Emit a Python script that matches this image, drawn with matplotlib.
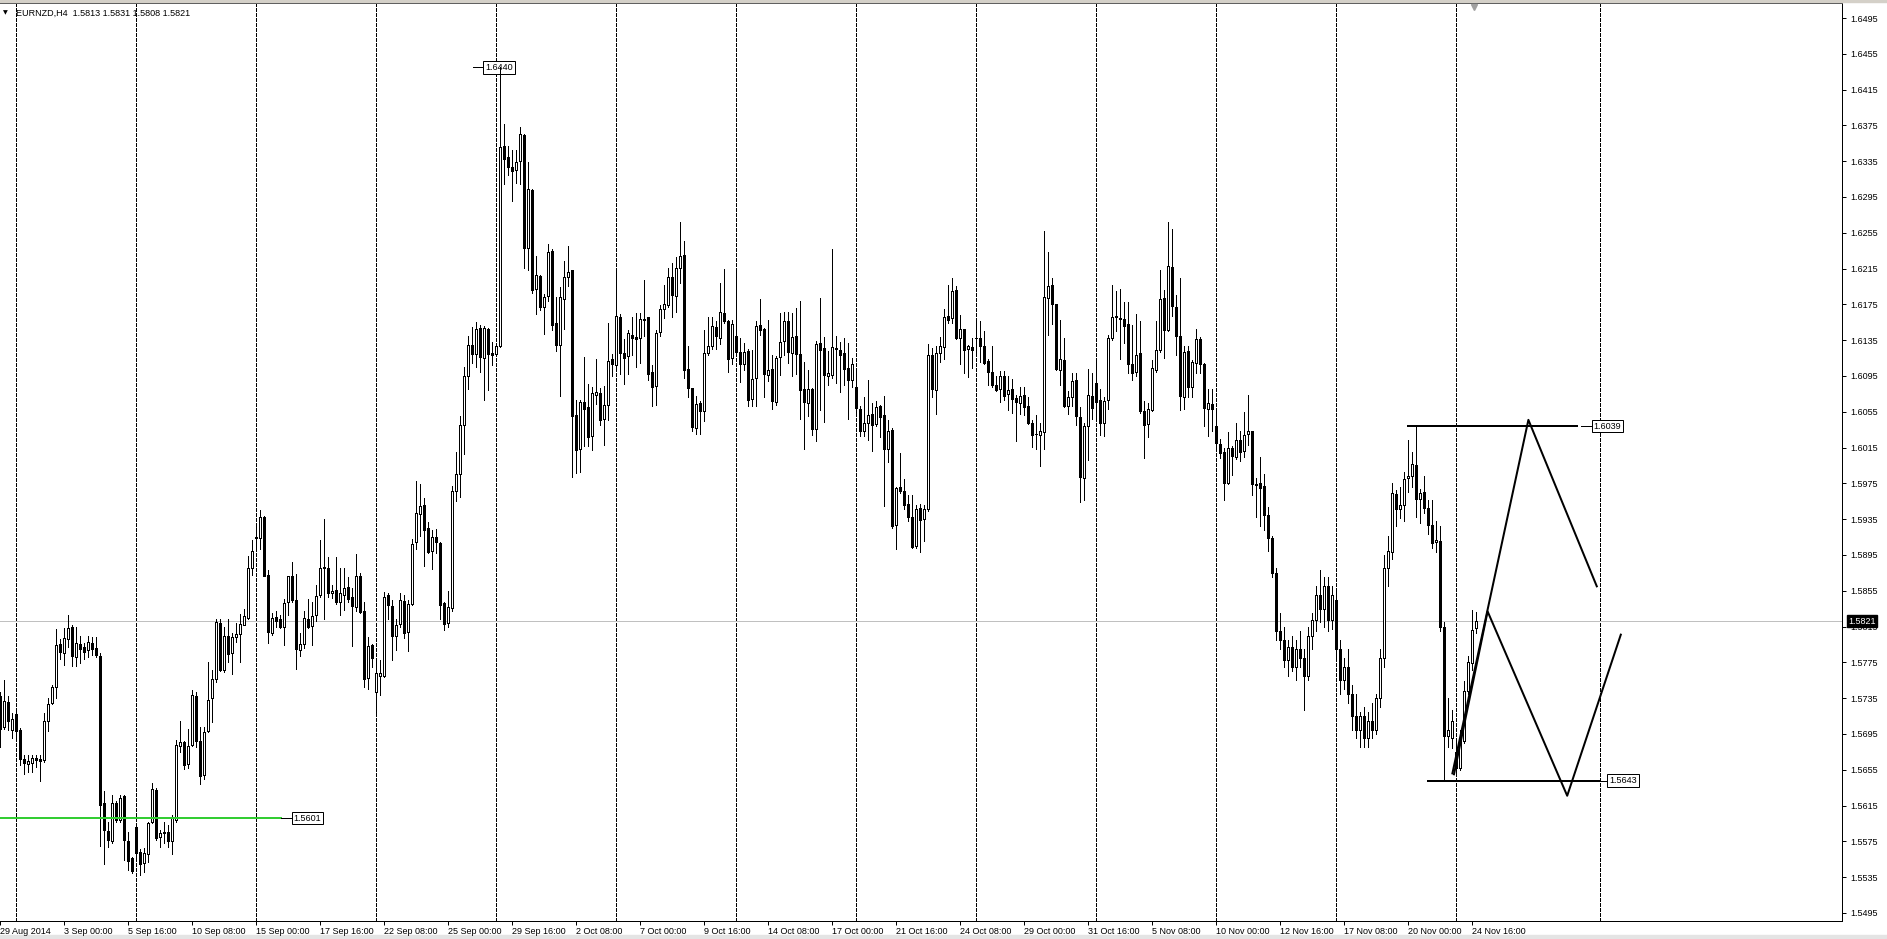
import numpy as np
import matplotlib.pyplot as plt
from matplotlib.patches import Rectangle

plt.rcParams['font.family'] = ['Liberation Sans', 'DejaVu Sans']
plt.rcParams['font.size'] = 6.5

# H4 bars, bar 0 = 1 Sep 2014 00:00, first bar = 29 Aug 2014 08:00
first_bar = -4

opens = [
    1.5738, 1.5703, 1.5731, 1.5699, 1.5717, 1.5700, 1.5667, 1.5662, 1.5663, 1.5668,
    1.5667, 1.5666, 1.5710, 1.5730, 1.5748, 1.5795, 1.5786, 1.5801, 1.5814, 1.5781,
    1.5796, 1.5792, 1.5789, 1.5797, 1.5791, 1.5782, 1.5618, 1.5587, 1.5575, 1.5618,
    1.5599, 1.5626, 1.5576, 1.5556, 1.5591, 1.5563, 1.5551, 1.5561, 1.5597, 1.5632,
    1.5580, 1.5585, 1.5586, 1.5575, 1.5599, 1.5682, 1.5686, 1.5662, 1.5683, 1.5738,
    1.5687, 1.5649, 1.5698, 1.5735, 1.5756, 1.5819, 1.5766, 1.5804, 1.5785, 1.5803,
    1.5807, 1.5817, 1.5825, 1.5881, 1.5914, 1.5914, 1.5937, 1.5873, 1.5808, 1.5826,
    1.5823, 1.5814, 1.5842, 1.5872, 1.5845, 1.5789, 1.5795, 1.5824, 1.5816, 1.5828,
    1.5850, 1.5882, 1.5881, 1.5853, 1.5856, 1.5843, 1.5850, 1.5859, 1.5848, 1.5837,
    1.5872, 1.5832, 1.5758, 1.5794, 1.5742, 1.5760, 1.5760, 1.5850, 1.5838, 1.5805,
    1.5818, 1.5844, 1.5809, 1.5840, 1.5909, 1.5941, 1.5951, 1.5925, 1.5900, 1.5915,
    1.5908, 1.5841, 1.5819, 1.5836, 1.5967, 1.5985, 1.6040, 1.6095, 1.6130, 1.6120,
    1.6149, 1.6115, 1.6148, 1.6121, 1.6120, 1.6129, 1.6352, 1.6340, 1.6328, 1.6325,
    1.6335, 1.6364, 1.6238, 1.6303, 1.6192, 1.6207, 1.6172, 1.6184, 1.6235, 1.6154,
    1.6130, 1.6181, 1.6206, 1.6213, 1.6051, 1.6013, 1.6066, 1.6060, 1.6028, 1.6074,
    1.6076, 1.6047, 1.6063, 1.6114, 1.6107, 1.6161, 1.6121, 1.6117, 1.6141, 1.6139,
    1.6138, 1.6159, 1.6161, 1.6099, 1.6084, 1.6144, 1.6170, 1.6174, 1.6206, 1.6184,
    1.6216, 1.6230, 1.6103, 1.6082, 1.6037, 1.6065, 1.6056, 1.6121, 1.6129, 1.6150,
    1.6137, 1.6165, 1.6157, 1.6115, 1.6140, 1.6122, 1.6108, 1.6123, 1.6069, 1.6093,
    1.6152, 1.6148, 1.6096, 1.6103, 1.6066, 1.6116, 1.6134, 1.6157, 1.6121, 1.6140,
    1.6120, 1.6081, 1.6065, 1.6080, 1.6036, 1.6132, 1.6126, 1.6095, 1.6096, 1.6126,
    1.6124, 1.6121, 1.6104, 1.6091, 1.6083, 1.6058, 1.6034, 1.6042, 1.6052, 1.6041,
    1.6061, 1.6051, 1.6013, 1.6035, 1.5928, 1.5971, 1.5967, 1.5952, 1.5938, 1.5905,
    1.5948, 1.5935, 1.5946, 1.6119, 1.6079, 1.6121, 1.6127, 1.6162, 1.6160, 1.6191,
    1.6137, 1.6147, 1.6125, 1.6127, 1.6137, 1.6138, 1.6128, 1.6112, 1.6100, 1.6085,
    1.6080, 1.6095, 1.6075, 1.6080, 1.6070, 1.6065, 1.6074, 1.6062, 1.6042, 1.6030,
    1.6029, 1.6032, 1.6182, 1.6197, 1.6176, 1.6102, 1.6113, 1.6062, 1.6071, 1.6090,
    1.6049, 1.5981, 1.6039, 1.6073, 1.6087, 1.6068, 1.6043, 1.6068, 1.6138, 1.6161,
    1.6160, 1.6159, 1.6153, 1.6108, 1.6099, 1.6121, 1.6056, 1.6041, 1.6057, 1.6102,
    1.6124, 1.6182, 1.6146, 1.6217, 1.6172, 1.6140, 1.6072, 1.6123, 1.6083, 1.6110,
    1.6136, 1.6108, 1.6058, 1.6064, 1.6039, 1.6019, 1.6010, 1.5975, 1.6015, 1.6005,
    1.6023, 1.6011, 1.6030, 1.6033, 1.5974, 1.5975, 1.5972, 1.5940, 1.5914, 1.5875,
    1.5810, 1.5800, 1.5778, 1.5792, 1.5770, 1.5790, 1.5780, 1.5760, 1.5805, 1.5822,
    1.5850, 1.5835, 1.5860, 1.5822, 1.5845, 1.5790, 1.5755, 1.5770, 1.5740, 1.5715,
    1.5700, 1.5715, 1.5690, 1.5710, 1.5700, 1.5735, 1.5780, 1.5880, 1.5898, 1.5963,
    1.5946, 1.5951, 1.5981, 1.5983, 1.5996, 1.5958, 1.5965, 1.5947, 1.5928, 1.5909,
    1.5911, 1.5815, 1.5693, 1.5691, 1.5675, 1.5657, 1.5687, 1.5743, 1.5774, 1.5813,
]
highs = [
    1.5742, 1.5755, 1.5738, 1.5718, 1.5720, 1.5702, 1.5672, 1.5671, 1.5672, 1.5672,
    1.5672, 1.5719, 1.5735, 1.5750, 1.5812, 1.5801, 1.5813, 1.5828, 1.5817, 1.5815,
    1.5805, 1.5797, 1.5805, 1.5803, 1.5803, 1.5786, 1.5631, 1.5597, 1.5627, 1.5620,
    1.5627, 1.5627, 1.5586, 1.5558, 1.5593, 1.5567, 1.5568, 1.5597, 1.5640, 1.5635,
    1.5588, 1.5597, 1.5593, 1.5604, 1.5688, 1.5710, 1.5687, 1.5701, 1.5744, 1.5742,
    1.5703, 1.5703, 1.5776, 1.5766, 1.5824, 1.5823, 1.5815, 1.5823, 1.5808, 1.5819,
    1.5829, 1.5835, 1.5894, 1.5912, 1.5928, 1.5945, 1.5939, 1.5878, 1.5830, 1.5832,
    1.5828, 1.5846, 1.5872, 1.5887, 1.5874, 1.5808, 1.5832, 1.5846, 1.5843, 1.5861,
    1.5912, 1.5935, 1.5893, 1.5861, 1.5893, 1.5881, 1.5881, 1.5870, 1.5858, 1.5896,
    1.5875, 1.5843, 1.5803, 1.5796, 1.5775, 1.5778, 1.5854, 1.5853, 1.5845, 1.5824,
    1.5852, 1.5850, 1.5845, 1.5913, 1.5978, 1.5974, 1.5959, 1.5932, 1.5923, 1.5924,
    1.5909, 1.5843, 1.5855, 1.5972, 1.6010, 1.6050, 1.6105, 1.6140, 1.6150, 1.6155,
    1.6152, 1.6151, 1.6149, 1.6133, 1.6129, 1.6440, 1.6377, 1.6352, 1.6348, 1.6347,
    1.6373, 1.6365, 1.6334, 1.6304, 1.6229, 1.6208, 1.6187, 1.6242, 1.6237, 1.6183,
    1.6194, 1.6224, 1.6240, 1.6213, 1.6068, 1.6068, 1.6116, 1.6086, 1.6083, 1.6114,
    1.6082, 1.6084, 1.6154, 1.6120, 1.6211, 1.6164, 1.6136, 1.6146, 1.6161, 1.6165,
    1.6165, 1.6202, 1.6161, 1.6107, 1.6146, 1.6174, 1.6197, 1.6216, 1.6221, 1.6228,
    1.6267, 1.6246, 1.6129, 1.6082, 1.6073, 1.6067, 1.6146, 1.6161, 1.6161, 1.6157,
    1.6199, 1.6214, 1.6158, 1.6158, 1.6215, 1.6137, 1.6132, 1.6125, 1.6124, 1.6156,
    1.6181, 1.6149, 1.6158, 1.6118, 1.6117, 1.6165, 1.6166, 1.6166, 1.6165, 1.6171,
    1.6179, 1.6111, 1.6102, 1.6082, 1.6134, 1.6182, 1.6139, 1.6123, 1.6237, 1.6140,
    1.6133, 1.6137, 1.6132, 1.6115, 1.6102, 1.6062, 1.6072, 1.6090, 1.6065, 1.6067,
    1.6063, 1.6073, 1.6046, 1.6037, 1.5971, 1.6009, 1.5980, 1.5962, 1.5962, 1.5951,
    1.5952, 1.5951, 1.6131, 1.6126, 1.6129, 1.6139, 1.6170, 1.6197, 1.6204, 1.6195,
    1.6163, 1.6147, 1.6130, 1.6137, 1.6156, 1.6156, 1.6145, 1.6114, 1.6128, 1.6095,
    1.6101, 1.6101, 1.6095, 1.6092, 1.6074, 1.6083, 1.6083, 1.6072, 1.6046, 1.6051,
    1.6042, 1.6257, 1.6233, 1.6204, 1.6176, 1.6158, 1.6137, 1.6078, 1.6098, 1.6098,
    1.6060, 1.6043, 1.6103, 1.6098, 1.6115, 1.6080, 1.6072, 1.6141, 1.6197, 1.6190,
    1.6192, 1.6178, 1.6178, 1.6152, 1.6164, 1.6157, 1.6067, 1.6065, 1.6113, 1.6157,
    1.6213, 1.6191, 1.6267, 1.6259, 1.6186, 1.6204, 1.6128, 1.6129, 1.6113, 1.6148,
    1.6139, 1.6109, 1.6080, 1.6081, 1.6055, 1.6025, 1.6015, 1.6032, 1.6017, 1.6042,
    1.6034, 1.6055, 1.6074, 1.6034, 1.5981, 1.6004, 1.5985, 1.5949, 1.5916, 1.5880,
    1.5830, 1.5815, 1.5800, 1.5805, 1.5800, 1.5810, 1.5790, 1.5815, 1.5830, 1.5860,
    1.5878, 1.5870, 1.5870, 1.5860, 1.5855, 1.5800, 1.5780, 1.5790, 1.5750, 1.5740,
    1.5720, 1.5725, 1.5720, 1.5730, 1.5740, 1.5790, 1.5895, 1.5916, 1.5976, 1.5968,
    1.5971, 1.5988, 1.6023, 1.6010, 1.6039, 1.5969, 1.5983, 1.5957, 1.5957, 1.5933,
    1.5927, 1.5820, 1.5735, 1.5722, 1.5689, 1.5700, 1.5754, 1.5782, 1.5834, 1.5831,
]
lows = [
    1.5681, 1.5701, 1.5699, 1.5690, 1.5690, 1.5660, 1.5650, 1.5653, 1.5653, 1.5658,
    1.5642, 1.5664, 1.5698, 1.5729, 1.5735, 1.5779, 1.5772, 1.5792, 1.5771, 1.5771,
    1.5774, 1.5779, 1.5781, 1.5783, 1.5781, 1.5570, 1.5550, 1.5569, 1.5573, 1.5597,
    1.5597, 1.5554, 1.5543, 1.5540, 1.5558, 1.5538, 1.5541, 1.5552, 1.5595, 1.5577,
    1.5569, 1.5573, 1.5569, 1.5561, 1.5597, 1.5675, 1.5656, 1.5657, 1.5682, 1.5681,
    1.5639, 1.5645, 1.5697, 1.5708, 1.5753, 1.5765, 1.5764, 1.5776, 1.5762, 1.5798,
    1.5775, 1.5817, 1.5823, 1.5873, 1.5902, 1.5902, 1.5871, 1.5797, 1.5806, 1.5815,
    1.5813, 1.5794, 1.5828, 1.5843, 1.5768, 1.5782, 1.5791, 1.5813, 1.5794, 1.5821,
    1.5848, 1.5824, 1.5848, 1.5847, 1.5840, 1.5828, 1.5833, 1.5842, 1.5793, 1.5832,
    1.5830, 1.5747, 1.5745, 1.5770, 1.5718, 1.5739, 1.5759, 1.5824, 1.5778, 1.5789,
    1.5815, 1.5802, 1.5788, 1.5839, 1.5902, 1.5916, 1.5883, 1.5897, 1.5879, 1.5897,
    1.5824, 1.5811, 1.5815, 1.5832, 1.5955, 1.5960, 1.6008, 1.6080, 1.6110, 1.6105,
    1.6100, 1.6068, 1.6079, 1.6107, 1.6118, 1.6127, 1.6309, 1.6320, 1.6291, 1.6311,
    1.6310, 1.6216, 1.6213, 1.6188, 1.6164, 1.6169, 1.6142, 1.6179, 1.6146, 1.6123,
    1.6073, 1.6148, 1.6196, 1.5982, 1.5987, 1.5988, 1.6017, 1.6017, 1.6012, 1.6064,
    1.6040, 1.6018, 1.6046, 1.6095, 1.6105, 1.6097, 1.6086, 1.6097, 1.6118, 1.6105,
    1.6110, 1.6140, 1.6090, 1.6062, 1.6063, 1.6140, 1.6160, 1.6172, 1.6161, 1.6166,
    1.6199, 1.6093, 1.6071, 1.6034, 1.6030, 1.6030, 1.6045, 1.6118, 1.6125, 1.6125,
    1.6131, 1.6154, 1.6100, 1.6108, 1.6121, 1.6088, 1.6102, 1.6062, 1.6061, 1.6061,
    1.6141, 1.6071, 1.6089, 1.6058, 1.6063, 1.6096, 1.6119, 1.6109, 1.6095, 1.6097,
    1.6047, 1.6013, 1.6050, 1.6029, 1.6022, 1.6057, 1.6044, 1.6085, 1.6093, 1.6087,
    1.6077, 1.6085, 1.6047, 1.6083, 1.6055, 1.6028, 1.6028, 1.6024, 1.6011, 1.6039,
    1.6027, 1.5950, 1.5999, 1.5925, 1.5902, 1.5964, 1.5946, 1.5933, 1.5903, 1.5903,
    1.5898, 1.5911, 1.5944, 1.6072, 1.6052, 1.6111, 1.6114, 1.6154, 1.6154, 1.6136,
    1.6108, 1.6098, 1.6094, 1.6104, 1.6119, 1.6111, 1.6108, 1.6085, 1.6083, 1.6078,
    1.6066, 1.6068, 1.6057, 1.6054, 1.6022, 1.6052, 1.6051, 1.6041, 1.6016, 1.6013,
    1.5994, 1.6013, 1.6141, 1.6153, 1.6102, 1.6085, 1.6060, 1.6052, 1.6062, 1.6040,
    1.5954, 1.5956, 1.6001, 1.6047, 1.6045, 1.6029, 1.6028, 1.6058, 1.6135, 1.6145,
    1.6114, 1.6132, 1.6098, 1.6090, 1.6095, 1.6054, 1.6003, 1.6027, 1.6056, 1.6099,
    1.6122, 1.6115, 1.6145, 1.6162, 1.6119, 1.6057, 1.6058, 1.6072, 1.6071, 1.6098,
    1.6098, 1.6039, 1.6028, 1.6033, 1.6011, 1.6003, 1.5956, 1.5974, 1.5984, 1.6002,
    1.6000, 1.6004, 1.6018, 1.5962, 1.5938, 1.5927, 1.5923, 1.5900, 1.5870, 1.5800,
    1.5790, 1.5770, 1.5760, 1.5765, 1.5755, 1.5770, 1.5722, 1.5755, 1.5790, 1.5810,
    1.5820, 1.5815, 1.5810, 1.5812, 1.5780, 1.5740, 1.5745, 1.5730, 1.5700, 1.5690,
    1.5680, 1.5680, 1.5680, 1.5690, 1.5695, 1.5725, 1.5770, 1.5860, 1.5890, 1.5927,
    1.5936, 1.5933, 1.5965, 1.5971, 1.5938, 1.5931, 1.5942, 1.5918, 1.5903, 1.5898,
    1.5810, 1.5643, 1.5681, 1.5679, 1.5652, 1.5655, 1.5685, 1.5740, 1.5767, 1.5808,
]
closes = [
    1.5701, 1.5732, 1.5710, 1.5712, 1.5698, 1.5667, 1.5663, 1.5665, 1.5668, 1.5666,
    1.5665, 1.5710, 1.5729, 1.5748, 1.5794, 1.5787, 1.5802, 1.5813, 1.5782, 1.5797,
    1.5790, 1.5787, 1.5798, 1.5790, 1.5783, 1.5616, 1.5588, 1.5577, 1.5618, 1.5599,
    1.5624, 1.5577, 1.5553, 1.5542, 1.5562, 1.5550, 1.5562, 1.5596, 1.5633, 1.5579,
    1.5584, 1.5584, 1.5576, 1.5601, 1.5683, 1.5686, 1.5660, 1.5682, 1.5739, 1.5687,
    1.5648, 1.5697, 1.5733, 1.5757, 1.5820, 1.5766, 1.5804, 1.5784, 1.5803, 1.5807,
    1.5818, 1.5827, 1.5881, 1.5900, 1.5915, 1.5938, 1.5872, 1.5809, 1.5825, 1.5821,
    1.5815, 1.5841, 1.5871, 1.5845, 1.5790, 1.5796, 1.5825, 1.5815, 1.5827, 1.5849,
    1.5881, 1.5880, 1.5853, 1.5855, 1.5842, 1.5852, 1.5858, 1.5846, 1.5838, 1.5872,
    1.5831, 1.5756, 1.5793, 1.5780, 1.5763, 1.5763, 1.5848, 1.5839, 1.5805, 1.5817,
    1.5845, 1.5808, 1.5840, 1.5907, 1.5942, 1.5950, 1.5923, 1.5898, 1.5915, 1.5909,
    1.5839, 1.5818, 1.5837, 1.5967, 1.5986, 1.6040, 1.6095, 1.6130, 1.6120, 1.6148,
    1.6116, 1.6149, 1.6120, 1.6119, 1.6128, 1.6351, 1.6338, 1.6328, 1.6324, 1.6334,
    1.6365, 1.6238, 1.6304, 1.6191, 1.6208, 1.6172, 1.6183, 1.6234, 1.6152, 1.6130,
    1.6183, 1.6206, 1.6211, 1.6050, 1.6012, 1.6066, 1.6058, 1.6027, 1.6076, 1.6077,
    1.6046, 1.6063, 1.6112, 1.6108, 1.6162, 1.6121, 1.6115, 1.6143, 1.6137, 1.6136,
    1.6159, 1.6158, 1.6097, 1.6083, 1.6143, 1.6170, 1.6175, 1.6206, 1.6185, 1.6216,
    1.6229, 1.6102, 1.6082, 1.6038, 1.6064, 1.6056, 1.6121, 1.6129, 1.6151, 1.6140,
    1.6167, 1.6157, 1.6114, 1.6153, 1.6122, 1.6108, 1.6122, 1.6068, 1.6092, 1.6151,
    1.6146, 1.6097, 1.6102, 1.6067, 1.6115, 1.6133, 1.6157, 1.6122, 1.6139, 1.6120,
    1.6079, 1.6066, 1.6081, 1.6036, 1.6131, 1.6124, 1.6096, 1.6098, 1.6127, 1.6125,
    1.6119, 1.6103, 1.6091, 1.6108, 1.6059, 1.6034, 1.6042, 1.6051, 1.6040, 1.6060,
    1.6049, 1.6013, 1.6034, 1.5927, 1.5970, 1.5966, 1.5951, 1.5938, 1.5904, 1.5946,
    1.5934, 1.5946, 1.6119, 1.6080, 1.6121, 1.6128, 1.6161, 1.6158, 1.6190, 1.6138,
    1.6147, 1.6124, 1.6128, 1.6124, 1.6138, 1.6128, 1.6110, 1.6100, 1.6085, 1.6079,
    1.6095, 1.6073, 1.6079, 1.6069, 1.6066, 1.6073, 1.6060, 1.6043, 1.6029, 1.6030,
    1.6034, 1.6183, 1.6195, 1.6175, 1.6103, 1.6114, 1.6061, 1.6072, 1.6089, 1.6050,
    1.5982, 1.6039, 1.6074, 1.6059, 1.6066, 1.6043, 1.6067, 1.6137, 1.6161, 1.6162,
    1.6159, 1.6151, 1.6108, 1.6098, 1.6119, 1.6056, 1.6040, 1.6058, 1.6104, 1.6124,
    1.6181, 1.6146, 1.6218, 1.6173, 1.6140, 1.6073, 1.6122, 1.6083, 1.6111, 1.6136,
    1.6108, 1.6059, 1.6065, 1.6058, 1.6020, 1.6009, 1.5975, 1.6014, 1.6006, 1.6023,
    1.6010, 1.6029, 1.6034, 1.5974, 1.5973, 1.5970, 1.5940, 1.5914, 1.5875, 1.5810,
    1.5800, 1.5778, 1.5792, 1.5770, 1.5790, 1.5780, 1.5760, 1.5805, 1.5822, 1.5850,
    1.5835, 1.5860, 1.5822, 1.5850, 1.5790, 1.5755, 1.5770, 1.5740, 1.5715, 1.5700,
    1.5715, 1.5690, 1.5710, 1.5700, 1.5735, 1.5780, 1.5880, 1.5899, 1.5964, 1.5946,
    1.5951, 1.5980, 1.5983, 1.5997, 1.5958, 1.5964, 1.5948, 1.5928, 1.5908, 1.5912,
    1.5815, 1.5693, 1.5700, 1.5709, 1.5657, 1.5689, 1.5743, 1.5775, 1.5811, 1.5821,
]

time_labels = ['29 Aug 2014', '3 Sep 00:00', '5 Sep 16:00', '10 Sep 08:00', '15 Sep 00:00',
               '17 Sep 16:00', '22 Sep 08:00', '25 Sep 00:00', '29 Sep 16:00', '2 Oct 08:00',
               '7 Oct 00:00', '9 Oct 16:00', '14 Oct 08:00', '17 Oct 00:00', '21 Oct 16:00',
               '24 Oct 08:00', '29 Oct 00:00', '31 Oct 16:00', '5 Nov 08:00', '10 Nov 00:00',
               '12 Nov 16:00', '17 Nov 08:00', '20 Nov 00:00', '24 Nov 16:00']

symbol = 'EURNZD,H4'
bid = 1.5821
green_level = 1.5601
high_level = 1.6039
low_level = 1.5643
spike_high = 1.6440

# hand drawn zigzag projections (bar position, price)
zig_a_bars = [359.1, 378.1, 395.2]
zig_a_prices = [1.5651, 1.6046, 1.5860]
zig_b_bars = [359.5, 367.9, 387.8, 401.2]
zig_b_prices = [1.5650, 1.5832, 1.5626, 1.5806]

PX = 0.72  # one pixel in points at 100 dpi

fig = plt.figure(figsize=(18.87, 9.39), dpi=100)
ax = fig.add_axes([0, 18 / 939, 1842 / 1887, 918 / 939])

o = np.array(opens)
h = np.array(highs)
l = np.array(lows)
c = np.array(closes)
x = np.arange(len(c)) + first_bar
up = c >= o

# candles
ax.vlines(x, l, h, color='black', lw=PX, zorder=3, antialiased=False)
ax.bar(x, np.maximum(np.abs(c - o), 0.00001), bottom=np.minimum(o, c), width=0.5,
       color=['white' if u else 'black' for u in up], edgecolor='black',
       linewidth=PX, zorder=4, antialiased=False)

# weekly period separators + vertical line object
for wk in list(range(0, 361, 30)) + [396]:
    ax.axvline(wk, color='black', lw=PX, ls=(0, (3, 2)), zorder=1, antialiased=False)

# bid line
ax.axhline(bid, color='#c0c0c0', lw=PX, zorder=2, antialiased=False)

box = dict(boxstyle='square,pad=0.2', fc='white', ec='black', lw=PX)

# green level
ax.plot([first_bar - 1, 66.2], [green_level] * 2, color='#32cd32', lw=2 * PX, zorder=5)
ax.plot([66.2, 68.9], [green_level] * 2, color='black', lw=PX, zorder=5)
ax.text(69.4, green_level, f'{green_level:.4f}', ha='left', va='center', bbox=box, zorder=5)

# spike high label (under the candles)
ax.plot([114.3, 116.8], [spike_high] * 2, color='black', lw=PX, zorder=2)
ax.text(117.3, spike_high, f'{spike_high:.4f}', ha='left', va='center', bbox=box, zorder=2)

# range lines
ax.plot([348, 390.2], [high_level] * 2, color='black', lw=2 * PX, zorder=5)
ax.plot([391.2, 393.9], [high_level] * 2, color='black', lw=PX, zorder=5)
ax.text(394.4, high_level, f'{high_level:.4f}', ha='left', va='center', bbox=box, zorder=5)

ax.plot([353, 396], [low_level] * 2, color='black', lw=2 * PX, zorder=5)
ax.plot([396, 397.8], [low_level] * 2, color='black', lw=PX, zorder=5)
ax.text(398.3, low_level, f'{low_level:.4f}', ha='left', va='center', bbox=box, zorder=5)

# zigzag projections
ax.plot(zig_a_bars, zig_a_prices, color='black', lw=2 * PX, zorder=5)
ax.plot(zig_b_bars, zig_b_prices, color='black', lw=2 * PX, zorder=5)

# axes / scales
ax.set_xlim(-4, 456.5)
ax.set_ylim(1.548606, 1.651176)

price_ticks = np.round(np.arange(1.5495, 1.6496, 0.004), 4)
ax.yaxis.tick_right()
ax.set_yticks(price_ticks, [f'{t:.4f}' for t in price_ticks])
ax.tick_params(axis='y', direction='out', length=3, width=PX, pad=3, labelsize=6.5)

label_bars = [first_bar + 16 * k for k in range(len(time_labels))]
ax.set_xticks(label_bars, time_labels, ha='left')
ax.tick_params(axis='x', direction='out', length=3, width=PX, pad=1.5, labelsize=6.5)

ax.spines['left'].set_visible(False)
for s in ['top', 'right', 'bottom']:
    ax.spines[s].set_linewidth(PX)
ax.spines['top'].set_color('#606060')

# current price tag on the price scale
ax.text(1.0035, bid, f'{bid:.4f}', transform=ax.get_yaxis_transform(), ha='left', va='center',
        color='white', fontsize=6.5, clip_on=False, zorder=10,
        bbox=dict(boxstyle='square,pad=0.15', fc='black', ec='black'))

# chart header
ohlc = f'{opens[-1]:.4f} {highs[-1]:.4f} {lows[-1]:.4f} {closes[-1]:.4f}'
ax.text(16 / 1842, 1 - 10 / 918, f'{symbol}  {ohlc}', transform=ax.transAxes,
        ha='left', va='center', fontsize=6.5)
ax.text(3 / 1842, 1 - 10 / 918, '▼', transform=ax.transAxes, ha='left', va='center',
        fontsize=4.5, family='DejaVu Sans')

# chart shift marker
ax.plot([364.5], [0.996], transform=ax.get_xaxis_transform(), marker='v', color='#a0a0a0',
        markersize=4, clip_on=False, zorder=6)

# window borders
fig.add_artist(Rectangle((0, 1 - 2 / 939), 1, 2 / 939, transform=fig.transFigure,
                         color='#d4d0c8', zorder=0))
fig.add_artist(Rectangle((0, 0), 1, 4 / 939, transform=fig.transFigure,
                         color='#e4e4e4', zorder=0))

fig.savefig('out.png', dpi=100)
